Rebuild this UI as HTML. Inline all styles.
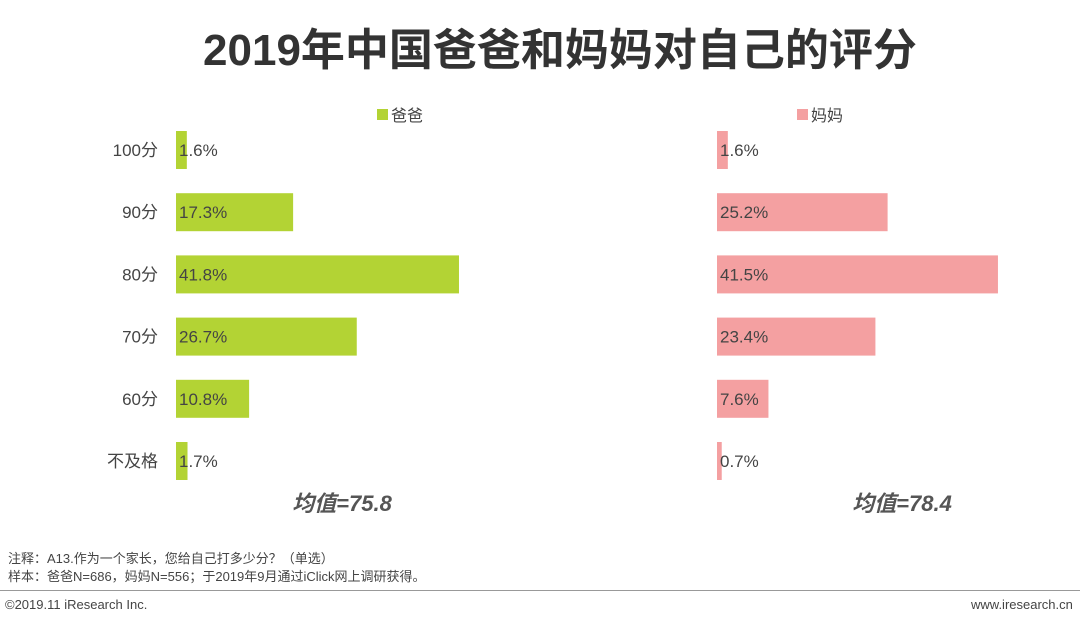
<!DOCTYPE html>
<html><head><meta charset="utf-8"><style>
body{margin:0;width:1080px;height:625px;background:#fff;font-family:"Liberation Sans","Noto Sans CJK SC",sans-serif;overflow:hidden;position:relative}
.t{position:absolute;white-space:nowrap}
</style></head><body>
<div class="t" style="left:0;width:1120px;text-align:center;top:14px;font-size:44px;font-weight:bold;color:#333">2019年中国爸爸和妈妈对自己的评分</div>
<svg id="c" width="1080" height="625" style="position:absolute;left:0;top:0"></svg>
<div class="t" style="left:8px;top:548px;font-size:13px;color:#444">注释：A13.作为一个家长，您给自己打多少分？（单选）</div>
<div class="t" style="left:8px;top:566px;font-size:13px;color:#444">样本：爸爸N=686，妈妈N=556；于2019年9月通过iClick网上调研获得。</div>
<div style="position:absolute;left:0;top:590px;width:1080px;height:1px;background:#999"></div>
<div class="t" style="left:5px;top:597px;font-size:13px;color:#444">©2019.11 iResearch Inc.</div>
<div class="t" style="left:971px;top:597px;font-size:13px;color:#444">www.iresearch.cn</div>
<script>
const categories=["100分","90分","80分","70分","60分","不及格"];
const dadValues=[1.6,17.3,41.8,26.7,10.8,1.7];
const momValues=[1.6,25.2,41.5,23.4,7.6,0.7];
const means=["均值=75.8","均值=78.4"];
const svg=document.getElementById('c');const NS="http://www.w3.org/2000/svg";
const xs=v=>v*6.77; const yc=i=>150+i*62.2;
function mk(t,a,txt){const e=document.createElementNS(NS,t);for(const k in a)e.setAttribute(k,a[k]);if(txt!=null)e.textContent=txt;svg.appendChild(e);return e;}
categories.forEach((c,i)=>{const e=mk('text',{x:158,y:yc(i)+6,'text-anchor':'end','font-size':17,fill:'#444'},c);

});
function series(vals,x0,color,name){vals.forEach((v,i)=>{const r=mk('rect',{x:x0,y:yc(i)-19,width:xs(v),height:38,fill:color});


const t=mk('text',{x:x0+3,y:yc(i)+6,'font-size':17,fill:'#444'},v.toFixed(1)+'%');

});}
series(dadValues,176,'#b3d334','dad');series(momValues,717,'#f4a0a1','mom');
[[377,'#b3d334','爸爸','legend-dad'],[797,'#f4a0a1','妈妈','legend-mom']].forEach(l=>{const r=mk('rect',{x:l[0],y:109,width:11,height:11,fill:l[1]});


const t=mk('text',{x:l[0]+14,y:121,'font-size':16,fill:'#444'},l[2]);

});
[[342,0],[902,1]].forEach(m=>{const t=mk('text',{x:m[0],y:511,'text-anchor':'middle','font-size':22,'font-weight':'bold','font-style':'italic',fill:'#555'},means[m[1]]);

});
</script>
</body></html>
